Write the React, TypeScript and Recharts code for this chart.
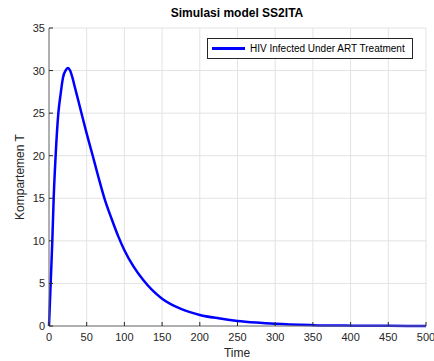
import React from 'react';
import { LineChart, Line, XAxis, YAxis, CartesianGrid } from 'recharts';

const times = [0, 2.2, 4.4, 6.2, 8.8, 12.4, 15.5, 18.6, 22, 25, 28, 31, 35, 38.5, 42.5, 50, 58, 65.5, 73.5, 83, 92, 100, 112, 125, 137, 150, 175, 200, 225, 250, 275, 300, 350, 400, 450, 500];
const compartmentT = [0, 5, 10, 15, 20, 25, 27.3, 29.2, 30.0, 30.3, 30.0, 29.2, 27.8, 26.6, 25.2, 22.6, 20, 17.5, 15, 12.6, 10.5, 8.9, 7, 5.4, 4.2, 3.2, 2.0, 1.3, 0.9, 0.6, 0.4, 0.25, 0.1, 0.04, 0.015, 0.006];
const xTicks = [0, 50, 100, 150, 200, 250, 300, 350, 400, 450, 500];
const yTicks = [0, 5, 10, 15, 20, 25, 30, 35];

const data = times.map((t, i) => ({ t, T: compartmentT[i] }));

const FONT = 'Arial, "Liberation Sans", sans-serif';
const AXIS = '#6e6e6e';
const TEXT = '#262626';

const BottomTick = (props: any) => {
  const { x, y, payload } = props;
  return (
    <g>
      <line x1={x} y1={y} x2={x} y2={y - 4} stroke={TEXT} strokeWidth={1} />
      <text x={x} y={y + 15} textAnchor="middle" fill={TEXT} fontSize={11} fontFamily={FONT}>
        {payload.value}
      </text>
    </g>
  );
};

const TopTick = (props: any) => {
  const { x, y } = props;
  return <line x1={x} y1={y} x2={x} y2={y + 4} stroke={TEXT} strokeWidth={1} />;
};

const LeftTick = (props: any) => {
  const { x, y, payload } = props;
  return (
    <g>
      <line x1={x} y1={y} x2={x + 4} y2={y} stroke={TEXT} strokeWidth={1} />
      <text x={x - 4} y={y + 4} textAnchor="end" fill={TEXT} fontSize={11} fontFamily={FONT}>
        {payload.value}
      </text>
    </g>
  );
};

const RightTick = (props: any) => {
  const { x, y } = props;
  return <line x1={x} y1={y} x2={x - 4} y2={y} stroke={TEXT} strokeWidth={1} />;
};

export default function App() {
  return (
    <div style={{ position: 'absolute', left: 0, top: 0, width: 434, height: 361, background: '#fff', fontFamily: FONT }}>
      <LineChart width={434} height={361} data={data} margin={{ top: 28, right: 8, bottom: 0, left: 0 }}>
        <CartesianGrid xAxisId="b" yAxisId="l" stroke="#e3e3e3" strokeWidth={1} />
        <XAxis
          xAxisId="b"
          dataKey="t"
          type="number"
          domain={[0, 500]}
          ticks={xTicks}
          height={35}
          tickSize={0}
          tickMargin={0}
          tickLine={false}
          stroke={AXIS}
          tick={<BottomTick />}
          interval={0}
        />
        <XAxis
          xAxisId="top"
          orientation="top"
          dataKey="t"
          type="number"
          domain={[0, 500]}
          ticks={xTicks}
          height={0}
          tickSize={0}
          tickMargin={0}
          tickLine={false}
          stroke={AXIS}
          tick={<TopTick />}
          interval={0}
        />
        <YAxis
          yAxisId="l"
          type="number"
          domain={[0, 35]}
          ticks={yTicks}
          width={49}
          tickSize={0}
          tickMargin={0}
          tickLine={false}
          stroke={AXIS}
          tick={<LeftTick />}
          interval={0}
        />
        <YAxis
          yAxisId="r"
          orientation="right"
          type="number"
          domain={[0, 35]}
          ticks={yTicks}
          width={0}
          tickSize={0}
          tickMargin={0}
          tickLine={false}
          stroke={AXIS}
          tick={<RightTick />}
          interval={0}
        />
        <Line
          xAxisId="b"
          yAxisId="l"
          dataKey="T"
          type="monotone"
          stroke="#0000ff"
          strokeWidth={2.5}
          dot={false}
          isAnimationActive={false}
        />
      </LineChart>
      <div style={{ position: 'absolute', left: 0, width: 434, top: 6, paddingLeft: 40, boxSizing: 'border-box', textAlign: 'center', fontSize: 12, fontWeight: 'bold', color: '#000' }}>
        Simulasi model SS2ITA
      </div>
      <div style={{ position: 'absolute', left: 0, width: 434, top: 346, paddingLeft: 40, boxSizing: 'border-box', textAlign: 'center', fontSize: 12, color: TEXT }}>
        Time
      </div>
      <div style={{ position: 'absolute', left: 20, top: 177, transform: 'translate(-50%, -50%) rotate(-90deg)', whiteSpace: 'nowrap', fontSize: 12, color: TEXT }}>
        Kompartemen T
      </div>
      <div style={{ position: 'absolute', left: 207, top: 38, width: 206, height: 21, border: `1px solid ${TEXT}`, background: '#fff', display: 'flex', alignItems: 'center', boxSizing: 'border-box', fontSize: 10, color: '#000', whiteSpace: 'nowrap' }}>
        <div style={{ width: 33, height: 3, background: '#0000ff', marginLeft: 4, marginRight: 5, flexShrink: 0 }} />
        HIV Infected Under ART Treatment
      </div>
    </div>
  );
}
